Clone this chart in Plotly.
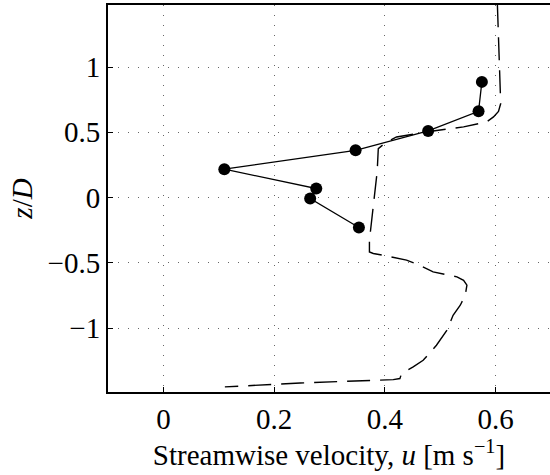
import plotly.graph_objects as go

# Measured points (solid line with markers)
meas_u = [0.575, 0.569, 0.478, 0.347, 0.110, 0.276, 0.265, 0.353]
meas_z = [0.886, 0.661, 0.510, 0.362, 0.217, 0.069, -0.008, -0.230]

# Model profile (dashed line)
prof_u = [0.603, 0.605, 0.607, 0.609, 0.605, 0.596, 0.584, 0.542, 0.487, 0.421,
          0.403, 0.388, 0.386, 0.382, 0.376, 0.372, 0.372, 0.379, 0.397, 0.439,
          0.463, 0.487, 0.530, 0.542, 0.548, 0.545, 0.536, 0.523, 0.512, 0.493,
          0.469, 0.451, 0.430, 0.427, 0.415, 0.247, 0.111]
prof_z = [1.48, 1.2, 0.9, 0.72, 0.66, 0.618, 0.58, 0.541, 0.51, 0.464,
          0.426, 0.375, 0.2, 0.056, -0.149, -0.327, -0.417, -0.429, -0.442, -0.48,
          -0.519, -0.570, -0.608, -0.634, -0.672, -0.749, -0.825, -0.902, -1.017, -1.132,
          -1.247, -1.298, -1.349, -1.387, -1.395, -1.421, -1.451]

x_ticks = [0, 0.2, 0.4, 0.6]
x_ticklabels = ["0", "0.2", "0.4", "0.6"]
y_ticks = [-1, -0.5, 0, 0.5, 1]
y_ticklabels = ["\u22121", "\u22120.5", "0", "0.5", "1"]

FONT = "Liberation Serif"

fig = go.Figure()
fig.add_trace(go.Scatter(
    x=prof_u, y=prof_z, mode="lines",
    line=dict(color="black", width=1.4, dash="23px,10px"),
    showlegend=False, hoverinfo="skip",
))
fig.add_trace(go.Scatter(
    x=meas_u, y=meas_z, mode="lines+markers",
    line=dict(color="black", width=1.3),
    marker=dict(color="black", size=12),
    showlegend=False, hoverinfo="skip",
))

axis_common = dict(
    showline=True, linecolor="black", linewidth=2,
    ticks="inside", ticklen=5, tickcolor="black", tickwidth=1,
    showgrid=True, gridcolor="#666", gridwidth=1, griddash="1px,9px",
    zeroline=False, automargin=False,
    tickfont=dict(family=FONT, size=29, color="black"),
)

fig.update_xaxes(
    range=[-0.1, 0.698], tickvals=x_ticks, ticktext=x_ticklabels,
    mirror=True,
    title=dict(text="Streamwise velocity, <i>u</i> [m s<sup>\u22121</sup>]",
               font=dict(family=FONT, size=29, color="black"), standoff=6),
    **axis_common,
)
fig.update_yaxes(
    range=[-1.49, 1.475], tickvals=y_ticks, ticktext=y_ticklabels,
    mirror=False,
    title=dict(text="<i>z</i>/<i>D</i>",
               font=dict(family=FONT, size=29, color="black"), standoff=6),
    **axis_common,
)

fig.update_layout(
    width=550, height=475,
    margin=dict(l=108, r=0, t=5, b=83),
    plot_bgcolor="white", paper_bgcolor="white",
    font=dict(family=FONT, color="black"),
    hovermode=False,
)

fig.write_html("out.html", config={"displayModeBar": False, "staticPlot": True},
               post_script="document.body.style.margin='0';")
